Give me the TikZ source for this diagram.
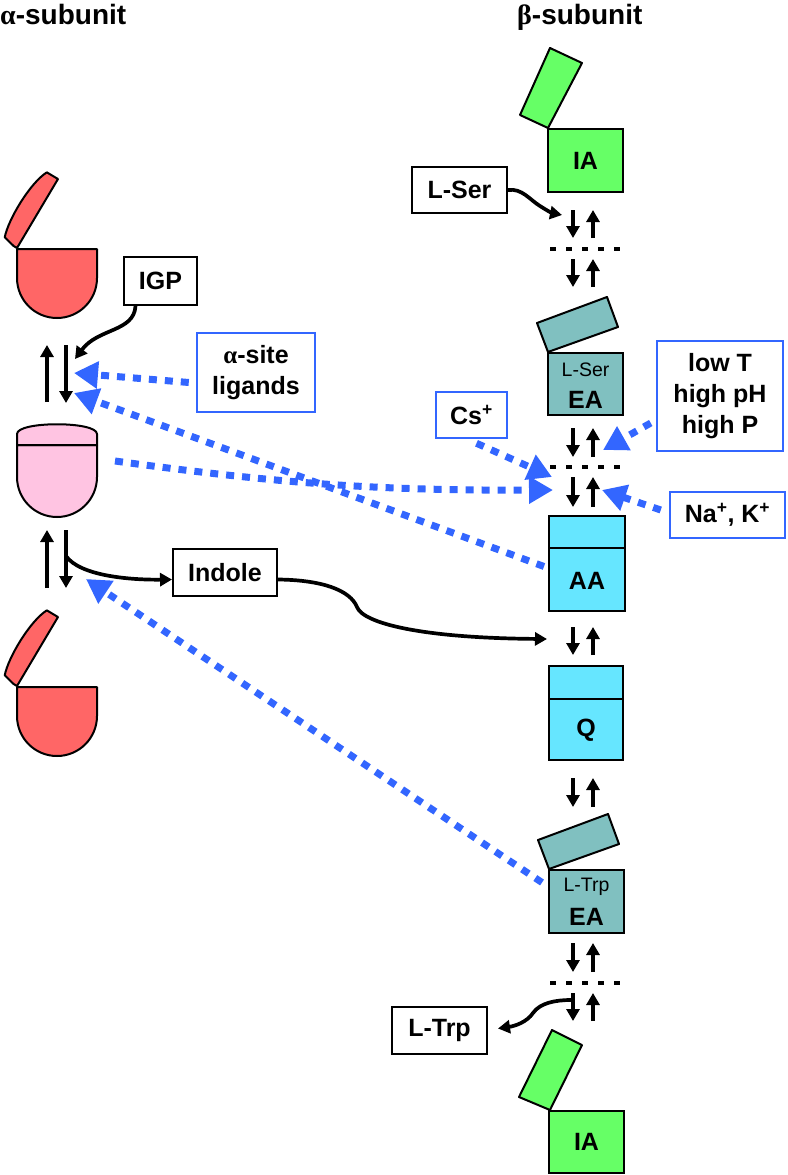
\documentclass[tikz,border=0pt]{standalone}
\usepackage{fontspec}
\setmainfont{Liberation Sans}
\newfontfamily\grk{Liberation Serif}
\usetikzlibrary{arrows.meta}
\definecolor{redc}{HTML}{FF6666}
\definecolor{pinkc}{HTML}{FFC4E2}
\definecolor{greenc}{HTML}{66FF66}
\definecolor{tealc}{HTML}{80C0C0}
\definecolor{cyanc}{HTML}{66E6FF}
\definecolor{bluec}{HTML}{3366FF}
\begin{document}
\begin{tikzpicture}[x=1pt,y=-1pt,
  font=\bfseries\fontsize{25}{31}\selectfont,
  txtbox/.style={draw=black,line width=2pt,fill=white,inner sep=0pt,align=center},
  bluebox/.style={draw=bluec,line width=2.5pt,fill=white,inner sep=0pt,align=center},
  statebox/.style={draw=black,line width=2pt,inner sep=0pt},
  shapeline/.style={draw=black,line width=2pt,line join=round},
  blk/.style={line width=3.7pt,-{Triangle[length=12pt,width=13pt]}},
  blu/.style={draw=bluec,line width=7pt,dash pattern=on 8pt off 8pt,-{Triangle[length=24pt,width=26pt]}},
  dotl/.style={line width=4pt,dash pattern=on 6pt off 10pt},
  smalltxt/.style={font=\mdseries\fontsize{19.5}{20}\selectfont},
  ttl/.style={anchor=base west,font=\bfseries\fontsize{28}{30}\selectfont,inner sep=0pt},
  openalpha/.pic={
    \path[shapeline,fill=redc] (0,0) -- (80,0) -- (80,29) .. controls (80,51.1) and (62.1,69) .. (40,69) .. controls (17.9,69) and (0,51.1) .. (0,29) -- cycle;
    \begin{scope}[shift={(0,-1)},x={(0.5125pt,0.8625pt)},y={(-0.8625pt,0.5125pt)}]
      \path[shapeline,fill=redc] (0,0) -- (80,0) -- (80,13) .. controls (62,22) and (20,22) .. (3,16) -- (0,4) -- cycle;
    \end{scope}
  }
]
\useasboundingbox (0,0) rectangle (787,1175);

% titles
\node[ttl] (ttlA) at (0,24) {{\grk α}-subunit};
\node[ttl] (ttlB) at (517,24) {{\grk β}-subunit};

% alpha subunit shapes
\pic at (17,249) {openalpha};
\pic at (17,687) {openalpha};
\path[shapeline,fill=pinkc] (17,445) -- (17,477) .. controls (17,499.1) and (34.9,517) .. (57,517) .. controls (79.1,517) and (97,499.1) .. (97,477) -- (97,445) -- cycle;
\path[shapeline,fill=pinkc] (17,445) -- (17,434) .. controls (17,421) and (97,421) .. (97,434) -- (97,445) -- cycle;
\coordinate (pinkR) at (115,461);

% beta lids
\path[shapeline,fill=greenc] (548,128) -- (520,115) -- (550,48) -- (582,63) -- cycle;
\path[shapeline,fill=tealc] (548,352) -- (537,323) -- (607,297) -- (618,327) -- cycle;
\path[shapeline,fill=tealc] (549,869) -- (538,840) -- (608,814) -- (619,844) -- cycle;
\path[shapeline,fill=greenc] (550,1110) -- (519,1097) -- (552,1030) -- (582,1045) -- cycle;

% beta state boxes
\node[statebox,fill=greenc,minimum width=75pt,minimum height=63pt] (IA1) at (585.5,160.5) {IA};
\node[statebox,fill=tealc,minimum width=75pt,minimum height=62pt] (EA1) at (585.5,384) {};
\node[statebox,fill=cyanc,minimum width=76pt,minimum height=95pt] (AA) at (587,563.5) {};
\node[statebox,fill=cyanc,minimum width=74pt,minimum height=94pt] (Q) at (586,713) {};
\node[statebox,fill=tealc,minimum width=75pt,minimum height=63pt] (EA2) at (586.5,901.5) {};
\node[statebox,fill=greenc,minimum width=75pt,minimum height=62pt] (IA2) at (586.5,1142) {IA};
\draw[line width=2pt] (549,548) -- (625,548);
\draw[line width=2pt] (549,699) -- (623,699);
\node[smalltxt] (EA1a) at (585.5,370) {L-Ser};
\node (EA1b) at (585.5,400) {EA};
\node (AAlab) at (587,581) {AA};
\node (Qlab) at (586,730) {Q};
\node[smalltxt] (EA2a) at (586.5,887) {L-Trp};
\node (EA2b) at (586.5,917) {EA};

% text boxes
\node[txtbox,minimum width=73pt,minimum height=48pt] (IGP) at (160.5,281) {IGP};
\node[bluebox,minimum width=118pt,minimum height=79pt] (alig) at (256,372.5) {{\grk α}-site\\ligands};
\node[bluebox,minimum width=71pt,minimum height=46pt] (cs) at (471.5,415) {Cs\textsuperscript{+}};
\node[bluebox,minimum width=126pt,minimum height=110pt] (cond) at (720,396) {low T\\high pH\\high P};
\node[bluebox,minimum width=115pt,minimum height=46pt] (nak) at (727.5,515) {Na\textsuperscript{+}, K\textsuperscript{+}};
\node[txtbox,minimum width=95pt,minimum height=46pt] (lser) at (459.5,190) {L-Ser};
\node[txtbox,minimum width=104pt,minimum height=47pt] (indole) at (225,572.5) {Indole};
\node[txtbox,minimum width=95pt,minimum height=47pt] (ltrp) at (439.5,1030.5) {L-Trp};

% alpha equilibrium arrows
\coordinate (aU1b) at (47,402); \coordinate (aU1t) at (47,345);
\coordinate (aD1t) at (66,345); \coordinate (aD1b) at (66,403);
\coordinate (aU2b) at (47,588); \coordinate (aU2t) at (47,530);
\coordinate (aD2t) at (66,530); \coordinate (aD2b) at (66,588);
\draw[blk] (aU1b) -- (aU1t);
\draw[blk] (aD1t) -- (aD1b);
\draw[blk] (aU2b) -- (aU2t);
\draw[blk] (aD2t) -- (aD2b);
\coordinate (aIGP) at (75,359);
\coordinate (aDnS) at (66,556);

% beta equilibrium arrows
\foreach \n/\t/\b in {1/210/238,2/259/287,3/428/457,4/477/507,5/627/655,6/778/807,7/943/972,8/993/1021}{
  \coordinate (p\n dT) at (573,\t); \coordinate (p\n dB) at (573,\b);
  \coordinate (p\n uT) at (593,\t); \coordinate (p\n uB) at (593,\b);
  \draw[blk] (p\n dT) -- (p\n dB);
  \draw[blk] (p\n uB) -- (p\n uT);
}
\draw[dotl] (550,249) -- (621,249);
\draw[dotl] (550,467) -- (621,467);
\draw[dotl] (550,983) -- (621,983);

% targets
\coordinate (aT1) at (74,373);
\coordinate (aT2) at (74,393);
\coordinate (aT3) at (86,579);
\coordinate (bT1) at (553,490);
\coordinate (bT2) at (552,477);
\coordinate (bT3) at (603,450);
\coordinate (bT4) at (602,490);
\coordinate (qIn) at (547,639);
\coordinate (p1In) at (562,215);
\coordinate (p8Out) at (571,1000);

% black curved connectors
\draw[blk] ([shift={(-25,0)}]IGP.south) .. controls (134,332) and (98,328) .. (aIGP);
\draw[blk] (aDnS) .. controls (80,576) and (130,580) .. ([shift={(0,7)}]indole.west);
\draw[blk] ([shift={(0,7)}]indole.east) .. controls (322,580) and (350,590) .. (357,607) .. controls (363,623) and (420,638) .. (qIn);
\draw[blk] (lser.east) .. controls (522,188) and (530,200) .. (540,206) .. controls (546,210) and (552,213) .. (p1In);
\draw[blk] (p8Out) .. controls (555,1000) and (540,1003) .. (533,1013) .. controls (527,1022) and (515,1026) .. ([shift={(10,-2)}]ltrp.east);

% blue dotted effector arrows
\draw[blu] ([shift={(-7,10)}]alig.west) -- (aT1);
\draw[blu] ([shift={(-4,3)}]AA.west) -- (aT2);
\draw[blu] (pinkR) to[bend right=4] (bT1);
\draw[blu] ([shift={(5,4)}]cs.south) -- (bT2);
\draw[blu] ([shift={(-5,27)}]cond.west) -- (bT3);
\draw[blu] ([shift={(-8,-5)}]nak.west) -- (bT4);
\draw[blu] ([shift={(-6,-19)}]EA2.west) -- (aT3);
\end{tikzpicture}
\end{document}
